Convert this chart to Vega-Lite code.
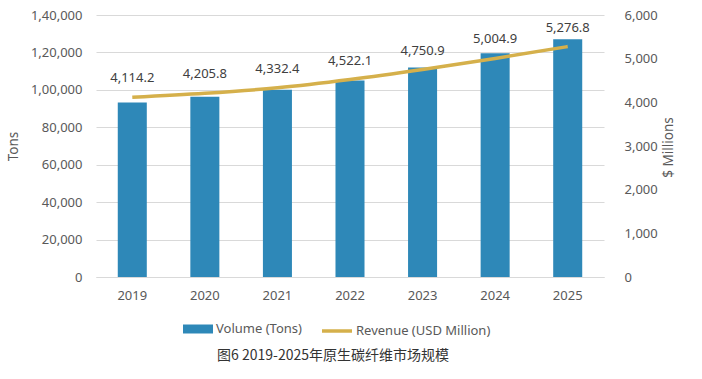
{
  "$schema": "https://vega.github.io/schema/vega-lite/v6.json",
  "width": 508,
  "height": 262,
  "autosize": {"type": "none"},
  "padding": {"left": 96, "top": 15, "right": 98, "bottom": 102},
  "background": "white",
  "config": {
    "view": {"stroke": null},
    "font": "Noto Sans",
    "axis": {"labelFont": "Noto Sans", "titleFont": "Noto Sans", "labelColor": "#595959", "titleColor": "#595959", "labelFontSize": 13, "titleFontSize": 13.5, "titleFontWeight": "normal"},
    "legend": {"labelFont": "Noto Sans", "labelFontSize": 13, "labelColor": "#595959"}
  },
  "title": {
    "text": "图6 2019-2025年原生碳纤维市场规模",
    "orient": "bottom",
    "font": "Noto Sans CJK SC",
    "fontSize": 14,
    "fontWeight": "normal",
    "color": "#333333",
    "anchor": "middle",
    "offset": 11,
    "dx": -17
  },
  "data": {
    "values": [
      {"year": "2019", "volume": 93200, "revenue": 4114.2, "label": "4,114.2"},
      {"year": "2020", "volume": 96300, "revenue": 4205.8, "label": "4,205.8"},
      {"year": "2021", "volume": 100000, "revenue": 4332.4, "label": "4,332.4"},
      {"year": "2022", "volume": 105000, "revenue": 4522.1, "label": "4,522.1"},
      {"year": "2023", "volume": 112000, "revenue": 4750.9, "label": "4,750.9"},
      {"year": "2024", "volume": 119500, "revenue": 5004.9, "label": "5,004.9"},
      {"year": "2025", "volume": 127000, "revenue": 5276.8, "label": "5,276.8"}
    ]
  },
  "encoding": {
    "x": {
      "field": "year",
      "type": "ordinal",
      "scale": {"paddingInner": 0.6, "paddingOuter": 0.3},
      "axis": {"title": null, "labelAngle": 0, "labelPadding": 12, "ticks": false, "domainColor": "#d9d9d9", "domainWidth": 1}
    }
  },
  "layer": [
    {
      "mark": {"type": "bar"},
      "encoding": {
        "y": {
          "field": "volume",
          "type": "quantitative",
          "scale": {"domain": [0, 140000]},
          "axis": {
            "title": "Tons",
            "values": [0, 20000, 40000, 60000, 80000, 100000, 120000, 140000],
            "labelExpr": "datum.value >= 100000 ? floor(datum.value/100000) + ',' + format(floor((datum.value % 100000)/1000), '02d') + ',000' : format(datum.value, ',')",
            "domain": false,
            "ticks": false,
            "labelPadding": 14,
            "titlePadding": 10,
            "gridColor": "#d9d9d9"
          }
        },
        "fill": {
          "datum": "Volume (Tons)",
          "type": "nominal",
          "scale": {"range": ["#2E88B8"]},
          "legend": {"title": null, "orient": "none", "direction": "horizontal", "legendX": 87, "legendY": 299, "symbolType": "M-1,-0.3H1V0.3H-1Z", "symbolSize": 900, "symbolStrokeWidth": 0, "labelOffset": 3}
        }
      }
    },
    {
      "encoding": {
        "y": {
          "field": "revenue",
          "type": "quantitative",
          "scale": {"domain": [0, 6000]},
          "axis": {
            "orient": "right",
            "title": "$ Millions",
            "titleAngle": -90,
            "titleX": 64,
            "titleY": 132,
            "titleAlign": "center",
            "titleBaseline": "middle",
            "values": [0, 1000, 2000, 3000, 4000, 5000, 6000],
            "labelExpr": "format(datum.value, ',')",
            "grid": false,
            "domain": false,
            "ticks": false,
            "labelPadding": 20
          }
        }
      },
      "layer": [
        {
          "mark": {"type": "line", "interpolate": "monotone", "strokeWidth": 3.5},
          "encoding": {
            "stroke": {
              "datum": "Revenue (USD Million)",
              "type": "nominal",
              "scale": {"range": ["#D5B04B"]},
              "legend": {"title": null, "orient": "none", "direction": "horizontal", "legendX": 224, "legendY": 299, "symbolType": "stroke", "symbolSize": 900, "symbolStrokeWidth": 3.5, "labelOffset": 2}
            }
          }
        },
        {
          "mark": {"type": "text", "dy": -19, "fontSize": 13, "color": "#404040", "font": "Noto Sans"},
          "encoding": {"text": {"field": "label"}}
        }
      ]
    }
  ],
  "resolve": {"scale": {"y": "independent"}}
}
